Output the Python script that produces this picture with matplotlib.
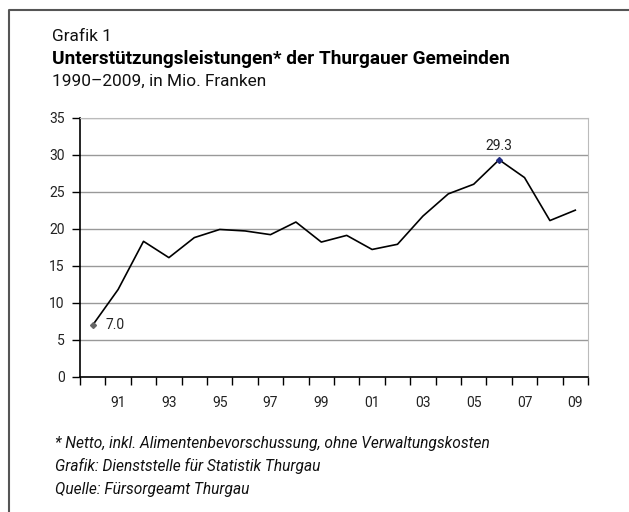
import matplotlib.pyplot as plt
from matplotlib.lines import Line2D
import numpy as np

plt.rcParams['font.family'] = ['Roboto', 'DejaVu Sans']

years = list(range(1990, 2010))
values = [7.0, 11.8, 18.3, 16.1, 18.8, 19.9, 19.7, 19.2, 20.9, 18.2,
          19.1, 17.2, 17.9, 21.7, 24.7, 26.0, 29.3, 26.9, 21.1, 22.5]
tick_years = [1991, 1993, 1995, 1997, 1999, 2001, 2003, 2005, 2007, 2009]
tick_labels = ['91', '93', '95', '97', '99', '01', '03', '05', '07', '09']

fig = plt.figure(figsize=(6.29, 5.12), dpi=100)
ax = fig.add_axes([80 / 629, 1 - 377 / 512, 508 / 629, 259.5 / 512])

x = np.arange(len(years))
ax.plot(x, values, color='black', lw=1.2, zorder=3)

# marked points with labels
i_first = 0
i_max = int(np.argmax(values))
ax.plot(x[i_first], values[i_first], marker='D', ms=3, color='#666666', zorder=4)
ax.plot(x[i_max], values[i_max], marker='D', ms=3, color='#1f2a80', zorder=4)
ax.annotate(f'{values[i_first]:.1f}', (x[i_first], values[i_first]), xytext=(9, 0),
            textcoords='offset points', ha='left', va='center', fontsize=10, color='#222222')
ax.annotate(f'{values[i_max]:.1f}', (x[i_max], values[i_max]), xytext=(0, 5),
            textcoords='offset points', ha='center', va='bottom', fontsize=10, color='#222222')

ax.set_xlim(-0.5, len(years) - 0.5)
ax.set_ylim(0, 35)
ax.set_yticks(range(0, 36, 5))
ax.yaxis.grid(True, color='#999999', lw=1)
ax.set_axisbelow(True)

ax.set_xticks([years.index(y) for y in tick_years])
ax.set_xticklabels(tick_labels)
ax.set_xticks(np.arange(-0.5, len(years)), minor=True)
ax.tick_params(axis='x', which='major', length=0, pad=14, labelsize=10, colors='#222222')
ax.tick_params(axis='x', which='minor', length=6, width=1, color='black', direction='out')
ax.tick_params(axis='y', length=6, width=1, pad=5, labelsize=10, colors='#222222')
ax.tick_params(axis='y', color='black')

for s in ['top', 'right']:
    ax.spines[s].set_color('#bbbbbb')
for s in ['left', 'bottom']:
    ax.spines[s].set_color('black')
    ax.spines[s].set_linewidth(1.2)

# header
fig.text(52 / 629, 1 - 41 / 512, 'Grafik 1', fontsize=12.4, va='baseline', color='#111111')
fig.text(52 / 629, 1 - 64 / 512, 'Unterstützungsleistungen* der Thurgauer Gemeinden',
         fontsize=13.7, fontweight='bold', va='baseline', color='black')
fig.text(52 / 629, 1 - 86 / 512, '1990–2009, in Mio. Franken', fontsize=12.4, va='baseline',
         color='#111111')

# footnotes
fig.text(55 / 629, 1 - 448 / 512, '* Netto, inkl. Alimentenbevorschussung, ohne Verwaltungskosten',
         fontsize=11.2, style='italic', va='baseline', color='#111111')
fig.text(55 / 629, 1 - 471 / 512, 'Grafik: Dienststelle für Statistik Thurgau',
         fontsize=11.2, style='italic', va='baseline', color='#111111')
fig.text(55 / 629, 1 - 494 / 512, 'Quelle: Fürsorgeamt Thurgau',
         fontsize=11.2, style='italic', va='baseline', color='#111111')

# frame around the chart
bx, by = 9 / 629, 1 - 10 / 512
fig.add_artist(Line2D([bx, bx, 1], [0, by, by], color='#555555', lw=1.5))

fig.savefig('out.png', dpi=100)
